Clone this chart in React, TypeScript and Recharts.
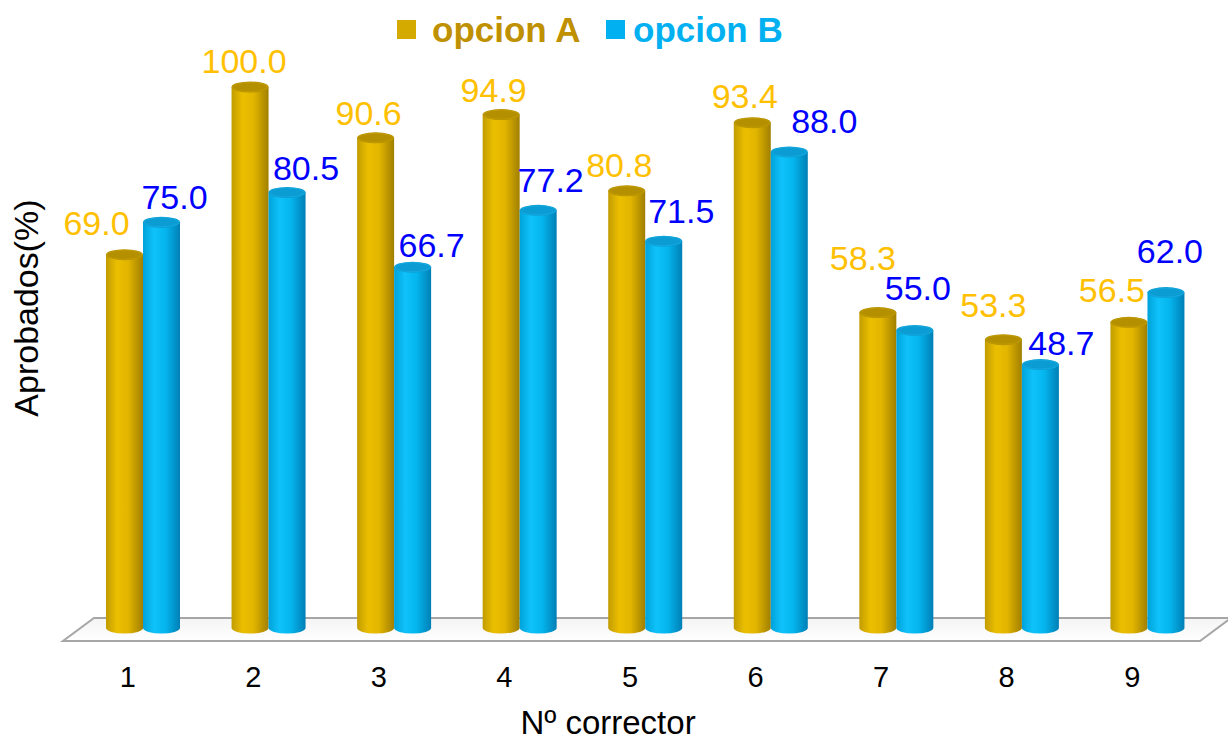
import React from "react";
import { BarChart, Bar, XAxis, YAxis, LabelList, Customized } from "recharts";

// Approval rate per corrector, two grading options
const correctors = ["1", "2", "3", "4", "5", "6", "7", "8", "9"];
const opcionA = [69.0, 100.0, 90.6, 94.9, 80.8, 93.4, 58.3, 53.3, 56.5];
const opcionB = [75.0, 80.5, 66.7, 77.2, 71.5, 88.0, 55.0, 48.7, 62.0];

// Label placement: horizontal shift from the bar centre and lift above the bar top,
// tuned per bar so neighbouring labels and cylinders stay clear of each other.
const labelShiftA = [-28, -6, -7, -7.5, -7.5, -7.5, -15, -10, -17];
const labelLiftA = [20, 14, 13, 13, 14, 15, 43, 23, 20];
const labelShiftB = [13, 19, 19, 12.5, 17.5, 35, 3, 21, 4];
const labelLiftB = [13, 12, 10, 18, 18, 19, 30, 10, 30];

const data = correctors.map((c, i) => ({ corrector: c, A: opcionA[i], B: opcionB[i] }));

const W = 1228;
const H = 742;
const MARGIN = { top: 87, right: 33, bottom: 54, left: 65 };
const X_AXIS_H = 60;
const PLOT_BOTTOM = H - MARGIN.bottom - X_AXIS_H;
const PLOT_LEFT = MARGIN.left;
const PLOT_RIGHT = W - MARGIN.right;

// horizontal shift of the cylinders (they stand mid-depth on the floor)
const DEPTH_X = 15;
const ELL_RY = 5.5;

const FONT = "Arial, 'Liberation Sans', Helvetica, sans-serif";

const palette = {
  A: { grad: "gradA", top: "#B48F00", label: "#FFC000" },
  B: { grad: "gradB", top: "#0A9CD3", label: "#0000FF" },
};

const makeCylinder = (key: "A" | "B") => (props: any) => {
  const { x, y, width, height } = props;
  if (height == null || width == null) return null;
  const left = x + DEPTH_X;
  const right = left + width;
  const rx = width / 2;
  const bottom = y + height;
  const d = `M${left},${y} L${left},${bottom} A${rx},${ELL_RY} 0 0 0 ${right},${bottom} L${right},${y} Z`;
  return (
    <g>
      <path d={d} fill={`url(#${palette[key].grad})`} />
      <ellipse cx={left + rx} cy={y} rx={rx} ry={ELL_RY} fill={palette[key].top} />
      <ellipse cx={left + rx} cy={y} rx={rx - 1} ry={ELL_RY - 1} fill="none" stroke={key === "A" ? "#C9A300" : "#1DB0E6"} strokeWidth={1} opacity={0.6} />
    </g>
  );
};

const makeLabel = (key: "A" | "B", shifts: number[], lifts: number[]) => (props: any) => {
  const { x, y, width, value, index } = props;
  const i = index ?? 0;
  return (
    <text
      x={x + width / 2 + DEPTH_X + shifts[i]}
      y={y - lifts[i]}
      textAnchor="middle"
      fontFamily={FONT}
      fontSize={34}
      fill={palette[key].label}
    >
      {Number(value).toFixed(1)}
    </text>
  );
};

const Scene = () => {
  const frontY = PLOT_BOTTOM + 13;
  const backY = PLOT_BOTTOM - 10;
  const fl = PLOT_LEFT - 2;
  const fr = PLOT_RIGHT + 5;
  const shift = 31;
  return (
    <g>
      <defs>
        <linearGradient id="gradA" x1="0" y1="0" x2="1" y2="0">
          <stop offset="0%" stopColor="#C29C00" />
          <stop offset="30%" stopColor="#EBBF00" />
          <stop offset="60%" stopColor="#E2B500" />
          <stop offset="100%" stopColor="#A07F00" />
        </linearGradient>
        <linearGradient id="gradB" x1="0" y1="0" x2="1" y2="0">
          <stop offset="0%" stopColor="#00A2DA" />
          <stop offset="30%" stopColor="#10C2FA" />
          <stop offset="60%" stopColor="#05B6EE" />
          <stop offset="100%" stopColor="#007FB6" />
        </linearGradient>
        <linearGradient id="floorGrad" x1="0" y1="0" x2="0" y2="1">
          <stop offset="0%" stopColor="#F4F4F4" />
          <stop offset="100%" stopColor="#FFFFFF" />
        </linearGradient>
      </defs>
      <polygon
        points={`${fl},${frontY} ${fr},${frontY} ${fr + shift},${backY} ${fl + shift},${backY}`}
        fill="url(#floorGrad)"
        stroke="#A6A6A6"
        strokeWidth={2}
      />
      {/* legend */}
      <rect x={397} y={20} width={19} height={19} fill="#D4AA00" />
      <text x={432} y={42} fontFamily={FONT} fontWeight="bold" fontSize={35} fill="#BF9000">
        opcion A
      </text>
      <rect x={606} y={20} width={19} height={19} fill="#00B0F0" />
      <text x={633} y={42} fontFamily={FONT} fontWeight="bold" fontSize={35} fill="#00B0F0">
        opcion B
      </text>
      {/* axis titles */}
      <text x={608} y={734} textAnchor="middle" fontFamily={FONT} fontSize={33} fill="#000">
        Nº corrector
      </text>
      <text
        x={38}
        y={308}
        textAnchor="middle"
        fontFamily={FONT}
        fontSize={34}
        fill="#000"
        transform="rotate(-90 38 308)"
      >
        Aprobados(%)
      </text>
    </g>
  );
};

const Tick = (props: any) => {
  const { x, payload } = props;
  return (
    <text x={x} y={PLOT_BOTTOM + 59} textAnchor="middle" fontFamily={FONT} fontSize={29} fill="#000">
      {payload.value}
    </text>
  );
};

export default function App() {
  return (
    <div style={{ position: "absolute", left: 0, top: 0, width: W, height: H, background: "#fff" }}>
      <BarChart width={W} height={H} data={data} margin={MARGIN} barGap={0} barSize={37}>
        <Customized component={Scene} />
        <XAxis
          dataKey="corrector"
          height={X_AXIS_H}
          axisLine={false}
          tickLine={false}
          tick={<Tick />}
          interval={0}
        />
        <YAxis hide domain={[0, 100]} />
        <Bar dataKey="A" isAnimationActive={false} shape={makeCylinder("A")}>
          <LabelList dataKey="A" content={makeLabel("A", labelShiftA, labelLiftA)} />
        </Bar>
        <Bar dataKey="B" isAnimationActive={false} shape={makeCylinder("B")}>
          <LabelList dataKey="B" content={makeLabel("B", labelShiftB, labelLiftB)} />
        </Bar>
      </BarChart>
    </div>
  );
}
